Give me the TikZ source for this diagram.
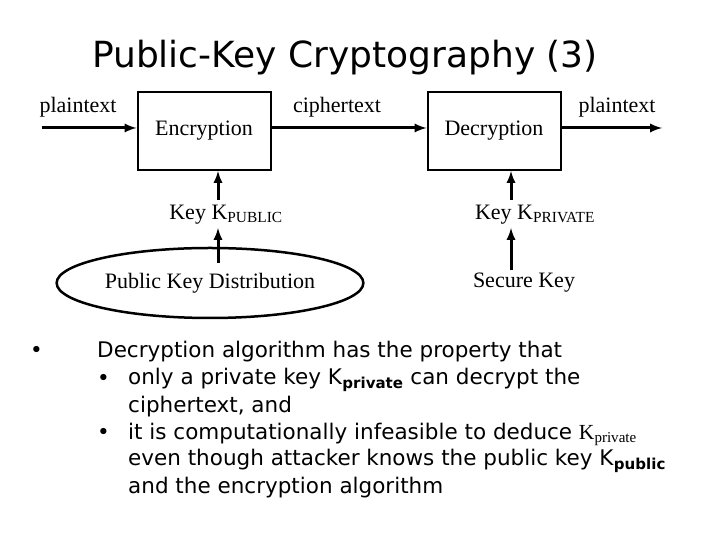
\documentclass[tikz,border=0pt]{standalone}
\usepackage{fontspec}
\setmainfont{Liberation Serif}
\newfontfamily\slidefont{DejaVu Sans}
\usetikzlibrary{shapes.geometric}
\begin{document}
\begin{tikzpicture}[x=1pt, y=1pt,
  lbl/.style={font=\fontsize{22}{26}\selectfont, inner sep=0pt},
  blk/.style={rectangle, draw, line width=2pt, minimum width=133pt, minimum height=78pt, font=\fontsize{22}{26}\selectfont},
  flow/.style={-latex, line width=3pt},
  txt/.style={font=\slidefont\fontsize{21.5}{25}\selectfont, anchor=west, inner sep=0pt}
]
\useasboundingbox (0,0) rectangle (720,540);

% Title
\node[font=\slidefont\fontsize{36}{42}\selectfont] (title) at (345,482) {Public-Key Cryptography (3)};

% Boxes
\node[blk] (enc) at (204,409) {Encryption};
\node[blk] (dec) at (494,409) {Decryption};

% Labels
\node[lbl] (pin) at (78,433) {plaintext};
\node[lbl] (ctext) at (337,433) {ciphertext};
\node[lbl] (pout) at (617,433) {plaintext};
\node[lbl] (kpub) at (226,325) {Key K\textsubscript{PUBLIC}};
\node[lbl] (kpriv) at (535,325) {Key K\textsubscript{PRIVATE}};
\node[ellipse, draw, line width=2.5pt, minimum width=288pt, minimum height=70pt, font=\fontsize{22}{26}\selectfont] (dist) at (210,257) {Public Key Distribution};
\node[lbl] (secure) at (524,257) {Secure Key};

% Arrows
\coordinate (inL) at (42,412);
\coordinate (outR) at (662,412);
\draw[flow] (inL) -- (enc.west |- inL);
\draw[flow] (enc.east |- inL) -- (dec.west |- inL);
\draw[flow] (dec.east |- inL) -- (outR);
\draw[flow] (218,340) -- (enc.south -| 218,0);
\draw[flow] (218,277) -- (218,312);
\draw[flow] (511,340) -- (dec.south -| 511,0);
\draw[flow] (511,270) -- (511,312);

% Bullets
\node[txt] (b0) at (30,188) {•};
\node[txt] (t0) at (97,188) {Decryption algorithm has the property that};
\node[txt] (b1) at (97,160) {•};
\node[txt] (t1) at (128,160) {only a private key K\textbf{\textsubscript{private}} can decrypt the};
\node[txt] (t1b) at (128,133) {ciphertext, and};
\node[txt] (b2) at (97,106) {•};
\node[txt] (t2) at (128,106) {it is computationally infeasible to deduce {\rmfamily K\textsubscript{private}}};
\node[txt] (t2b) at (128,79) {even though attacker knows the public key K\textbf{\textsubscript{public}}};
\node[txt] (t2c) at (128,52) {and the encryption algorithm};
\end{tikzpicture}
\end{document}
